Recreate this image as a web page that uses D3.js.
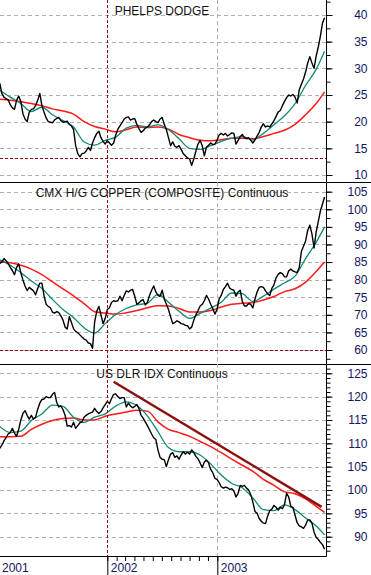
<!DOCTYPE html>
<html><head><meta charset="utf-8">
<script src="https://cdn.jsdelivr.net/npm/d3@7"></script>
<style>html,body{margin:0;padding:0;background:#fff;}svg{display:block;}</style>
</head><body>
<svg id="chart" width="371" height="575"></svg>
<script>
// ---------- DATA (weekly closes) ----------
const startDate = new Date(2001, 0, 9);
const weekCount = 155;           // weekly categories
const maStep = 5;                // moving-average samples every 5 weeks (+ final week)

const phelpsPrice = [27.2,25.3,24.6,24.3,24.1,23.2,22.6,22.3,24.0,24.8,23.8,21.5,20.5,20.0,21.8,22.3,22.4,23.0,24.0,25.3,
23.0,21.8,20.7,20.0,19.9,19.8,20.3,20.6,20.8,20.2,19.9,20.0,20.1,19.5,19.2,18.5,15.5,14.0,13.4,14.0,
14.1,14.5,15.2,14.6,16.0,17.0,17.8,18.2,17.0,16.3,15.8,16.5,16.0,15.6,16.0,17.5,18.6,19.2,19.8,20.5,
20.8,20.9,20.3,20.5,20.6,19.5,18.7,18.0,18.3,18.8,19.0,19.4,20.0,20.3,20.0,19.8,20.5,20.8,19.5,18.5,
17.0,15.5,16.2,15.4,15.2,15.5,14.8,14.0,13.6,13.2,13.0,11.8,13.0,14.5,15.8,16.5,15.5,13.6,15.2,15.6,
16.0,15.7,15.8,16.5,17.5,17.8,17.5,17.8,17.3,17.6,17.9,17.8,15.8,16.5,17.2,17.6,17.0,16.8,17.0,16.5,
16.0,16.6,17.3,18.0,19.0,19.6,19.0,19.2,19.0,19.6,20.2,21.0,21.8,22.1,23.0,23.8,24.5,25.0,24.8,25.1,
24.6,23.5,26.0,27.0,28.0,29.3,31.0,32.2,31.0,30.0,32.3,34.0,36.0,38.5,39.5];
const phelpsMAfast = [25.9,24.6,23.4,21.9,22.7,21.3,20.2,19.0,16.2,15.6,16.5,17.1,18.8,19.3,19.0,19.4,18.5,16.8,15.0,14.8,
15.5,16.3,16.9,17.2,16.6,17.8,19.4,21.1,23.4,26.8,29.8,33.2];
const phelpsMAslow = [24.2,24.0,23.75,23.4,23.0,22.4,22.0,21.4,20.0,19.1,18.6,18.1,18.5,19.0,18.9,19.0,18.6,17.6,17.0,16.5,
16.4,16.6,16.9,16.9,16.8,17.2,17.8,18.4,19.5,21.3,23.4,25.6];

const copperPrice = [84.6,85.0,86.0,85.4,84.6,83.5,82.6,81.4,83.5,84.5,82.0,79.9,78.2,76.9,77.8,77.3,76.8,75.7,77.5,79.0,
79.0,75.5,73.0,72.4,72.0,70.8,70.5,70.9,70.6,69.7,68.5,66.5,66.0,69.5,67.8,66.0,65.3,64.9,64.3,63.7,
63.1,62.8,62.0,61.8,60.5,68.0,71.0,72.4,70.0,67.5,69.0,71.5,72.0,73.5,74.0,73.8,74.0,75.3,74.0,75.5,
76.8,76.5,77.0,77.2,75.3,73.0,73.4,74.0,74.3,72.8,73.5,75.5,77.0,78.2,76.5,75.5,75.2,77.0,74.5,73.0,
71.5,69.5,67.5,67.8,68.3,68.0,67.5,67.4,67.0,66.9,66.0,66.5,68.5,70.0,71.2,72.5,73.0,74.0,75.5,74.5,
73.0,71.8,70.2,71.5,74.5,75.5,77.2,78.0,79.0,77.6,77.2,77.0,75.3,76.5,77.0,73.8,72.5,72.5,73.2,73.0,
72.0,74.5,76.5,77.8,78.0,77.8,76.8,76.0,75.5,77.5,78.5,80.5,81.5,82.0,81.7,80.8,80.8,82.5,83.0,82.5,
82.2,82.0,83.5,88.0,89.5,91.0,94.0,95.5,93.0,89.0,93.5,96.5,99.5,101.5,103.5];
const copperMAfast = [85.6,84.1,82.0,79.6,77.5,74.4,71.5,69.2,66.3,64.8,67.5,70.1,71.8,72.8,73.3,75.8,73.6,71.0,69.0,70.4,
71.9,73.6,76.2,76.0,73.8,75.3,77.3,79.1,81.0,86.0,90.6,95.0];
const copperMAslow = [85.1,84.8,84.1,83.0,81.4,79.4,77.4,75.4,73.2,70.9,70.5,70.2,70.6,71.2,72.0,72.6,72.5,71.8,70.8,70.8,
71.2,72.2,73.0,73.3,73.5,74.2,75.2,76.6,77.4,79.3,82.3,85.0];

const dollarPrice = [108.9,109.6,110.5,111.2,112.0,112.3,113.2,112.2,111.5,113.0,115.0,116.4,117.0,116.0,115.2,116.0,115.2,115.6,117.3,118.6,
119.4,119.5,120.0,119.8,119.8,120.5,120.9,118.8,117.8,118.0,117.2,116.0,113.7,113.8,113.5,114.5,113.2,113.8,114.4,114.6,
115.6,116.0,116.3,116.5,116.7,117.5,116.8,116.4,116.8,117.6,118.3,119.0,118.5,119.6,120.5,120.6,120.0,119.6,119.8,119.8,
117.8,118.6,118.0,117.6,117.9,118.3,117.5,116.0,115.4,114.6,113.8,112.9,112.0,111.2,110.8,108.6,107.0,106.6,106.5,105.0,
106.5,107.7,108.0,107.0,107.3,106.6,107.5,108.2,107.7,108.1,107.7,108.6,108.0,107.2,106.7,105.8,104.8,106.0,106.4,105.8,
104.4,103.7,102.5,102.3,101.6,100.7,100.4,100.6,100.5,100.1,100.3,99.8,98.5,99.3,101.0,100.8,101.0,100.4,100.0,99.0,
97.4,95.4,95.0,93.9,93.3,92.9,92.8,94.4,95.6,95.9,96.7,96.3,95.7,96.3,96.0,96.9,99.3,98.5,96.5,96.3,
94.6,93.0,92.3,92.1,91.8,92.5,93.6,93.6,92.9,91.0,89.9,89.4,88.8,88.3,87.3];
const dollarMAfast = [113.6,112.3,112.6,114.9,116.3,118.2,117.9,115.6,114.5,115.6,116.3,118.0,118.9,118.1,115.9,112.5,109.1,108.2,108.2,107.5,
105.6,103.2,101.4,100.5,98.3,95.8,95.6,96.8,95.8,94.0,92.3,90.4];
const dollarMAslow = [111.4,111.4,111.5,113.0,114.1,114.9,115.3,115.4,115.0,115.0,115.8,116.3,116.7,117.1,116.9,114.6,113.0,112.3,111.5,110.4,
109.3,108.0,106.6,105.3,104.0,102.3,101.0,99.6,99.2,98.1,96.5,95.2];
const dollarTrendWeeks = [54, 152.6];
const dollarTrendValues = [123.2, 96.4];

const panelTitles = ["PHELPS DODGE", "CMX H/G COPPER (COMPOSITE) Continuous", "US DLR IDX Continuous"];
const phelpsTicks = [10,15,20,25,30,35,40];
const copperTicks = [60,65,70,75,80,85,90,95,100,105];
const dollarTicks = [90,95,100,105,110,115,120,125];
const supportLevels = [13.2, 60, null];
const yearLabels = ["2001","2002","2003"];

// ---------- LAYOUT ----------
const W = 371, plotR = 326;
const svg = d3.select("#chart");
const weekDate = i => d3.timeDay.offset(startDate, Math.round(7 * i));
const dates = d3.range(weekCount).map(weekDate);
const maIdx = d3.range(0, weekCount, maStep).concat([weekCount - 1]);
const maDates = maIdx.map(weekDate);

const x = d3.scaleTime()
  .domain([new Date(2002,0,1), new Date(2003,0,1)])
  .range([107.3, 217.3]);

const panels = [
  {top:0, bottom:182.3, dom:[10,40], rng:[175,15], minor:2.5, ticks:phelpsTicks, price:phelpsPrice, fast:phelpsMAfast, slow:phelpsMAslow, title:panelTitles[0], titleY:15, support:supportLevels[0]},
  {top:182.3, bottom:364, dom:[60,105], rng:[350,191.7], minor:2.5, ticks:copperTicks, price:copperPrice, fast:copperMAfast, slow:copperMAslow, title:panelTitles[1], titleY:197, support:supportLevels[1]},
  {top:364, bottom:556, dom:[90,125], rng:[536.7,373.3], minor:1, ticks:dollarTicks, price:dollarPrice, fast:dollarMAfast, slow:dollarMAslow, title:panelTitles[2], titleY:378, support:null}
];

const font = "'Liberation Sans', Arial, sans-serif";
const gridColor = "#b0b0b0";
const darkRed = "#8b0a0a";

panels.forEach((p, k) => {
  const y = d3.scaleLinear().domain(p.dom).range(p.rng);
  const clipId = "clip" + k;
  svg.append("clipPath").attr("id", clipId)
    .append("rect").attr("x", 0).attr("y", p.top).attr("width", plotR).attr("height", p.bottom - p.top);
  const g = svg.append("g");

  // horizontal grid
  g.selectAll(".hg").data(p.ticks).join("line")
    .attr("x1", 0).attr("x2", plotR)
    .attr("y1", d => Math.round(y(d)) + 0.5).attr("y2", d => Math.round(y(d)) + 0.5)
    .attr("stroke", gridColor).attr("stroke-width", 1).attr("stroke-dasharray", "4,3");

  // year 2003 grey vertical grid
  g.append("line")
    .attr("x1", Math.round(x(new Date(2003,0,1))) + 0.5).attr("x2", Math.round(x(new Date(2003,0,1))) + 0.5)
    .attr("y1", p.top).attr("y2", p.bottom)
    .attr("stroke", gridColor).attr("stroke-dasharray", "4,3");

  // support level
  if (p.support !== null) {
    g.append("line").attr("x1", 0).attr("x2", plotR)
      .attr("y1", Math.round(y(p.support)) + 0.5).attr("y2", Math.round(y(p.support)) + 0.5)
      .attr("stroke", darkRed).attr("stroke-width", 1).attr("stroke-dasharray", "3,2");
  }

  const lines = g.append("g").attr("clip-path", `url(#${clipId})`);
  const priceLine = d3.line().x((d, i) => x(dates[i])).y(d => y(d));
  const maLine = d3.line().x((d, i) => x(maDates[i])).y(d => y(d)).curve(d3.curveMonotoneX);

  lines.append("path").datum(p.slow).attr("d", maLine)
    .attr("fill", "none").attr("stroke", "#ff1a1a").attr("stroke-width", 1.5);
  lines.append("path").datum(p.fast).attr("d", maLine)
    .attr("fill", "none").attr("stroke", "#0f8a78").attr("stroke-width", 1.3);
  lines.append("path").datum(p.price).attr("d", priceLine)
    .attr("fill", "none").attr("stroke", "#000").attr("stroke-width", 1.4).attr("stroke-linejoin", "round");

  if (k === 2) {
    lines.append("path")
      .datum(dollarTrendWeeks.map((w, i) => [weekDate(w), dollarTrendValues[i]]))
      .attr("d", d3.line().x(d => x(d[0])).y(d => y(d[1])))
      .attr("stroke", "#8b1010").attr("stroke-width", 2.5).attr("fill", "none");
  }

  // title
  g.append("text").attr("x", 162).attr("y", p.titleY)
    .attr("text-anchor", "middle").attr("font-family", font).attr("font-size", 12)
    .attr("fill", "#111").text(p.title);

  // right axis: minor ticks
  const minorVals = d3.range(p.dom[0] - p.minor * 4, p.dom[1] + p.minor * 4 + 0.001, p.minor)
    .filter(v => y(v) > p.top + 1 && y(v) < p.bottom - 1);
  const ax = svg.append("g").attr("transform", `translate(${plotR + 0.5},0)`);
  ax.call(d3.axisRight(y).tickValues(minorVals).tickSize(4).tickFormat(""))
    .call(s => s.select(".domain").remove());
  const axMaj = svg.append("g").attr("transform", `translate(${plotR + 0.5},0)`);
  axMaj.call(d3.axisRight(y).tickValues(p.ticks).tickSize(6).tickFormat(d3.format("d")))
    .call(s => s.select(".domain").remove());
  axMaj.selectAll("text").attr("x", 41).attr("text-anchor", "end")
    .attr("font-family", font).attr("font-size", 12).attr("fill", "#141464");
  svg.selectAll(".tick line").attr("stroke", "#000");

  // panel separator
  if (k < 2) {
    svg.append("line").attr("x1", 0).attr("x2", W)
      .attr("y1", Math.round(p.bottom) + 0.5).attr("y2", Math.round(p.bottom) + 0.5)
      .attr("stroke", "#000");
  }
});

// vertical dashed 2002 marker
svg.append("line")
  .attr("x1", Math.round(x(new Date(2002,0,1))) + 0.5).attr("x2", Math.round(x(new Date(2002,0,1))) + 0.5)
  .attr("y1", 0).attr("y2", 556)
  .attr("stroke", darkRed).attr("stroke-dasharray", "3,2");

// right axis line
svg.append("line").attr("x1", plotR + 0.5).attr("x2", plotR + 0.5).attr("y1", 0).attr("y2", 556.5).attr("stroke", "#000");

// bottom time axis
const bx = svg.append("g").attr("transform", "translate(0,556)");
bx.call(d3.axisBottom(x).ticks(d3.timeMonth.every(1)).tickSize(5).tickFormat(""))
  .call(s => s.select(".domain").attr("d", `M0,0.5H${plotR + 0.5}`));
const years = yearLabels.map(s => new Date(+s, 0, 1));
const yx = svg.append("g").attr("transform", "translate(0,556)");
yx.call(d3.axisBottom(x).tickValues(years).tickSize(19).tickFormat(d3.timeFormat("%Y")))
  .call(s => s.select(".domain").remove());
yx.selectAll("text").attr("text-anchor", "start").attr("x", 3).attr("y", 7)
  .attr("font-family", font).attr("font-size", 12).attr("fill", "#141464");
yx.selectAll(".tick").filter(d => x(d) < 0).select("text").attr("x", d => 1.5 - x(d));
svg.selectAll(".tick line").attr("stroke", "#000");
</script>
</body></html>
